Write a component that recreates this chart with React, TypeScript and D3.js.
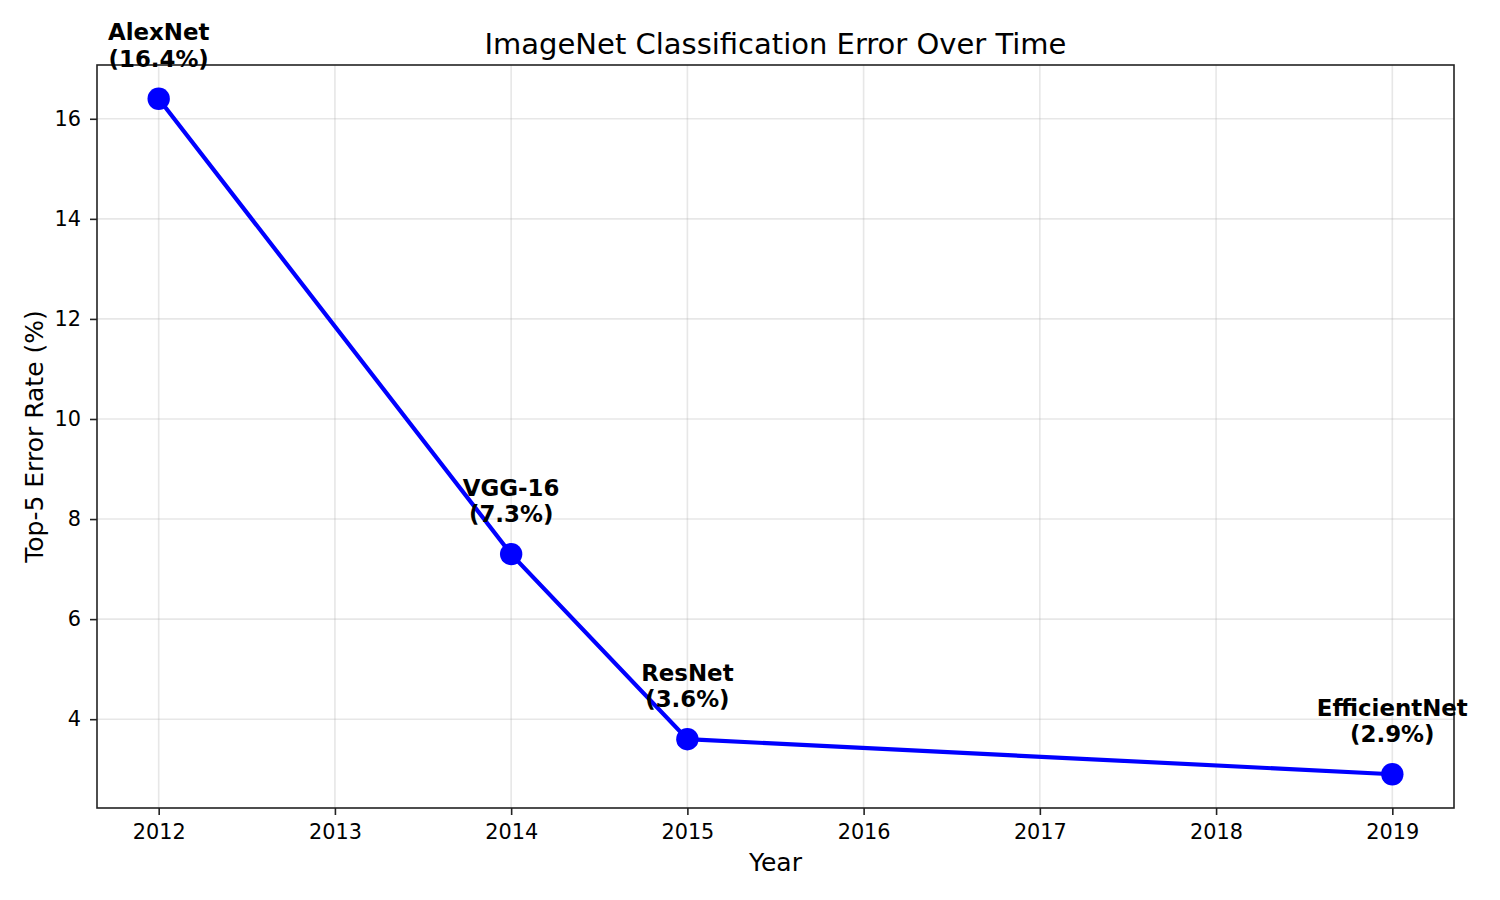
import React, { useEffect, useRef } from "react";
import * as d3 from "d3";

const models = ["AlexNet", "VGG-16", "ResNet", "EfficientNet"];
const years = [2012, 2014, 2015, 2019];
const errorRates = [16.4, 7.3, 3.6, 2.9];
const xTicks = [2012, 2013, 2014, 2015, 2016, 2017, 2018, 2019];
const yTicks = [4, 6, 8, 10, 12, 14, 16];

const width = 1500;
const height = 900;
const marginTop = 65;
const marginRight = 46;
const marginBottom = 92;
const marginLeft = 97;

const drawChart = (svgEl: SVGSVGElement) => {
  const svg = d3.select(svgEl);
  svg.selectAll("*").remove();

  const font = "'DejaVu Sans', sans-serif";

  // matplotlib-style 5% padding around the data
  const xPad = (d3.max(years)! - d3.min(years)!) * 0.05;
  const yPad = (d3.max(errorRates)! - d3.min(errorRates)!) * 0.05;

  const x = d3
    .scaleLinear()
    .domain([d3.min(years)! - xPad, d3.max(years)! + xPad])
    .range([marginLeft, width - marginRight]);

  const y = d3
    .scaleLinear()
    .domain([d3.min(errorRates)! - yPad, d3.max(errorRates)! + yPad])
    .range([height - marginBottom, marginTop]);

  svg.append("rect").attr("width", width).attr("height", height).attr("fill", "#fff");

  // grid
  const grid = svg
    .append("g")
    .attr("stroke", "#b0b0b0")
    .attr("stroke-opacity", 0.3)
    .attr("stroke-width", 1.6);
  grid
    .selectAll("line.v")
    .data(xTicks)
    .join("line")
    .attr("x1", (d) => x(d))
    .attr("x2", (d) => x(d))
    .attr("y1", marginTop)
    .attr("y2", height - marginBottom);
  grid
    .selectAll("line.h")
    .data(yTicks)
    .join("line")
    .attr("y1", (d) => y(d))
    .attr("y2", (d) => y(d))
    .attr("x1", marginLeft)
    .attr("x2", width - marginRight);

  // axes
  const xAxis = svg
    .append("g")
    .attr("transform", `translate(0,${height - marginBottom})`)
    .call(d3.axisBottom(x).tickValues(xTicks).tickFormat(d3.format("d")).tickSize(7).tickPadding(9));
  const yAxis = svg
    .append("g")
    .attr("transform", `translate(${marginLeft},0)`)
    .call(d3.axisLeft(y).tickValues(yTicks).tickFormat(d3.format("d")).tickSize(7).tickPadding(9));

  [xAxis, yAxis].forEach((a) => {
    a.select(".domain").remove();
    a.selectAll(".tick line").attr("stroke", "#222").attr("stroke-width", 1.6);
    a.selectAll(".tick text")
      .attr("font-family", font)
      .attr("font-size", 20.8)
      .attr("fill", "#000");
  });

  // frame
  svg
    .append("rect")
    .attr("x", marginLeft)
    .attr("y", marginTop)
    .attr("width", width - marginLeft - marginRight)
    .attr("height", height - marginTop - marginBottom)
    .attr("fill", "none")
    .attr("stroke", "#222")
    .attr("stroke-width", 1.6);

  // line + markers
  const pts = years.map((yr, i) => ({ year: yr, rate: errorRates[i], name: models[i] }));
  const line = d3
    .line<{ year: number; rate: number }>()
    .x((d) => x(d.year))
    .y((d) => y(d.rate));

  svg
    .append("path")
    .datum(pts)
    .attr("d", line)
    .attr("fill", "none")
    .attr("stroke", "#0000ff")
    .attr("stroke-width", 4.2);

  svg
    .append("g")
    .selectAll("circle")
    .data(pts)
    .join("circle")
    .attr("cx", (d) => x(d.year))
    .attr("cy", (d) => y(d.rate))
    .attr("r", 11.2)
    .attr("fill", "#0000ff");

  // annotations
  const labels = svg
    .append("g")
    .attr("font-family", font)
    .attr("font-size", 22.9)
    .attr("font-weight", "bold")
    .attr("text-anchor", "middle")
    .attr("fill", "#000");

  pts.forEach((d) => {
    const t = labels
      .append("text")
      .attr("x", x(d.year))
      .attr("y", y(d.rate) - 32);
    t.append("tspan").attr("x", x(d.year)).attr("dy", "-26.5").text(d.name);
    t.append("tspan").attr("x", x(d.year)).attr("dy", "26.5").text(`(${d.rate}%)`);
  });

  // title and axis labels
  svg
    .append("text")
    .attr("x", (marginLeft + width - marginRight) / 2)
    .attr("y", 53.5)
    .attr("text-anchor", "middle")
    .attr("font-family", font)
    .attr("font-size", 29)
    .text("ImageNet Classification Error Over Time");

  svg
    .append("text")
    .attr("x", (marginLeft + width - marginRight) / 2)
    .attr("y", 871)
    .attr("text-anchor", "middle")
    .attr("font-family", font)
    .attr("font-size", 25)
    .text("Year");

  svg
    .append("text")
    .attr("transform", `translate(43,${(marginTop + height - marginBottom) / 2}) rotate(-90)`)
    .attr("text-anchor", "middle")
    .attr("font-family", font)
    .attr("font-size", 25)
    .text("Top-5 Error Rate (%)");
};

export default function App() {
  const ref = useRef<SVGSVGElement>(null);

  useEffect(() => {
    if (ref.current) drawChart(ref.current);
  }, []);

  return (
    <svg
      ref={ref}
      width={width}
      height={height}
      style={{ position: "absolute", left: 0, top: 0 }}
    />
  );
}
